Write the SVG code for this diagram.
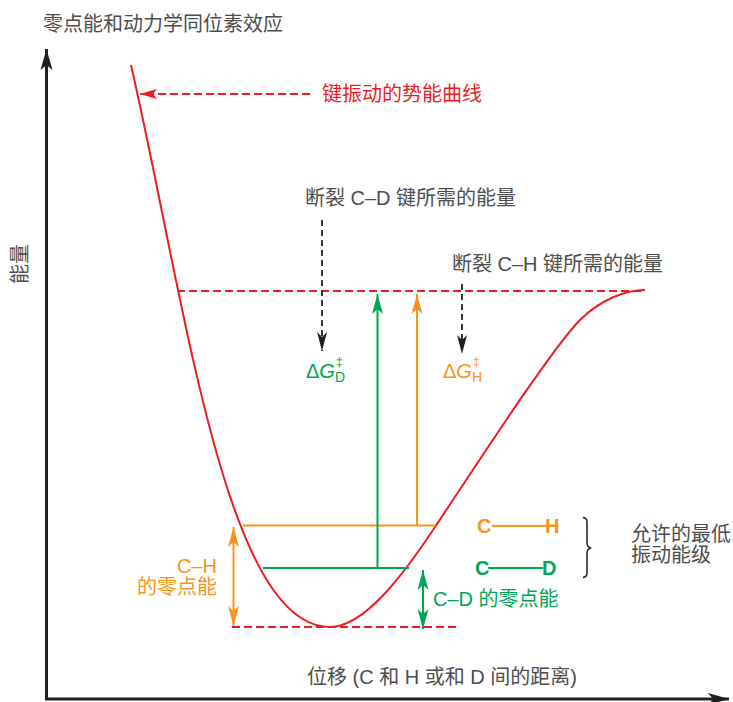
<svg xmlns="http://www.w3.org/2000/svg" width="733" height="702" viewBox="0 0 733 702">
<style>
text{font-family:"Liberation Sans","Noto Sans CJK SC",sans-serif;font-size:20px;fill:#4d4d4d}
.red{fill:#ed1c24}.org{fill:#f7941d}.grn{fill:#00a651}
.b{font-weight:bold}
.ax{stroke:#231f20;stroke-width:3;fill:none}
.rd{stroke:#ed1c24;stroke-width:2;stroke-dasharray:8 4;fill:none}
.bd{stroke:#231f20;stroke-width:1.8;stroke-dasharray:6 4;fill:none}
.ol{stroke:#f7941d;stroke-width:2;fill:none}
.gl{stroke:#00a651;stroke-width:2;fill:none}
</style>
<defs>
<marker id="mAx" markerUnits="userSpaceOnUse" markerWidth="24" markerHeight="14" viewBox="-22 -7 24 14" refX="0" refY="0" orient="auto"><path d="M0,0 L-21,-6 L-16,0 L-21,6 Z" fill="#231f20"/></marker>
<marker id="mR" markerUnits="userSpaceOnUse" markerWidth="20" markerHeight="12" viewBox="-18 -6 20 12" refX="0" refY="0" orient="auto"><path d="M0,0 L-17,-5 L-13,0 L-17,5 Z" fill="#ed1c24"/></marker>
<marker id="mB" markerUnits="userSpaceOnUse" markerWidth="22" markerHeight="12" viewBox="-20 -6 22 12" refX="0" refY="0" orient="auto"><path d="M0,0 L-19,-5 L-14,0 L-19,5 Z" fill="#231f20"/></marker>
<marker id="mO" markerUnits="userSpaceOnUse" markerWidth="22" markerHeight="14" viewBox="-20 -7 22 14" refX="0" refY="0" orient="auto-start-reverse"><path d="M0,0 L-20,-5.5 L-15,0 L-20,5.5 Z" fill="#f7941d"/></marker>
<marker id="mG" markerUnits="userSpaceOnUse" markerWidth="22" markerHeight="14" viewBox="-20 -7 22 14" refX="0" refY="0" orient="auto-start-reverse"><path d="M0,0 L-20,-5.5 L-15,0 L-20,5.5 Z" fill="#00a651"/></marker>
</defs>
<g id="title"><text x="43" y="31">零点能和动力学同位素效应</text></g>
<g id="axes">
<path class="ax" d="M46.5,699 L46.5,49" marker-end="url(#mAx)"/>
<path class="ax" d="M45,699 L729,699" marker-end="url(#mAx)"/>
<text transform="translate(27,264) rotate(-90)" text-anchor="middle">能量</text>
<text x="307" y="684">位移 (C 和 H 或和 D 间的距离)</text>
</g>
<g id="curve">
<path d="M131,65 C185,300 225,627 330,627 C365,627 405,572 433,530 C460,490 550,350 580,320 C600,300 625,290 645,290" fill="none" stroke="#ed1c24" stroke-width="2"/>
<text class="red" x="322" y="101">键振动的势能曲线</text>
</g>
<g id="connectors">
<path class="rd" d="M310,94 L140,94" marker-end="url(#mR)"/>
<path class="rd" d="M177,291 L645,291"/>
<path class="rd" d="M232,627 L457,627"/>
<path class="bd" d="M322,220 L322,351" marker-end="url(#mB)"/>
<path class="bd" d="M462,284 L462,354" marker-end="url(#mB)"/>
<path class="ol" d="M243,525.5 L436,525.5"/>
<path class="gl" d="M263,568 L409,568"/>
<path class="gl" d="M377.5,568 L377.5,294" marker-end="url(#mG)"/>
<path class="ol" d="M417,525 L417,294" marker-end="url(#mO)"/>
<path class="ol" d="M233.5,527 L233.5,626" marker-start="url(#mO)" marker-end="url(#mO)"/>
<path class="gl" d="M423,570 L423,629" marker-start="url(#mG)" marker-end="url(#mG)"/>
</g>
<g id="labels">
<text x="305" y="205">断裂 C–D 键所需的能量</text>
<text x="452" y="271">断裂 C–H 键所需的能量</text>
<text class="grn" x="306" y="378">Δ<tspan font-style="italic">G</tspan><tspan x="336" dy="-12" font-size="12">‡</tspan><tspan x="335" dy="16" font-size="14">D</tspan></text>
<text class="org" x="443" y="378">Δ<tspan font-style="italic">G</tspan><tspan x="473" dy="-12" font-size="12">‡</tspan><tspan x="472" dy="16" font-size="14">H</tspan></text>
<text class="org" x="217" y="573" text-anchor="end">C–H</text>
<text class="org" x="217" y="594" text-anchor="end">的零点能</text>
<text class="grn" x="433" y="606">C–D 的零点能</text>
</g>
<g id="legend">
<path class="ol" d="M492,526 L547,526"/>
<text class="org b" x="477" y="533">C</text>
<text class="org b" x="545" y="533">H</text>
<path class="gl" d="M488,568 L543,568"/>
<text class="grn b" x="475" y="575">C</text>
<text class="grn b" x="542" y="575">D</text>
<path d="M583,517.5 Q587,518 587,522 L587,543 Q587,547 591,548 Q587,549 587,553 L587,573 Q587,577 583,577.5" fill="none" stroke="#231f20" stroke-width="1.5"/>
<text x="631" y="541">允许的最低</text>
<text x="631" y="562">振动能级</text>
</g>
</svg>
